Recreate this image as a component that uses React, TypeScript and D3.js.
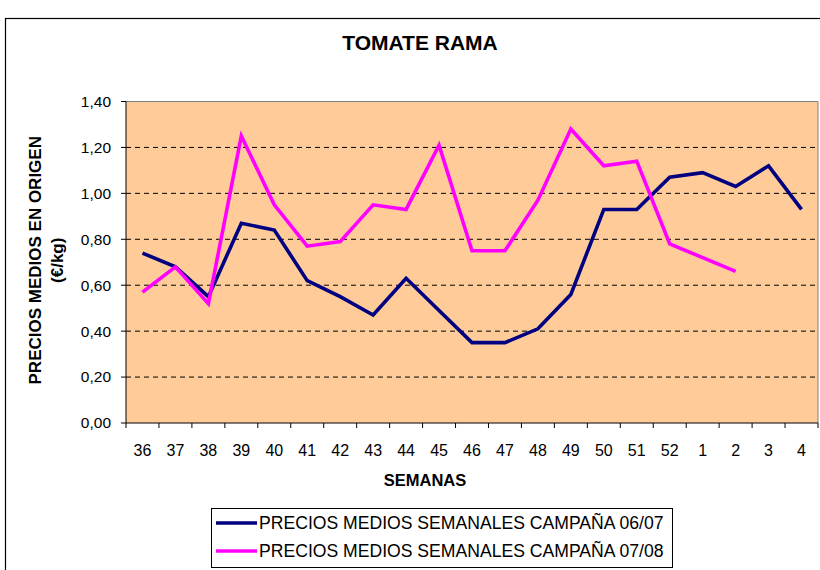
import React from "react";
import * as d3 from "d3";

const weeks = ["36", "37", "38", "39", "40", "41", "42", "43", "44", "45", "46", "47", "48", "49", "50", "51", "52", "1", "2", "3", "4"];
const campana0607 = [0.74, 0.68, 0.55, 0.87, 0.84, 0.62, 0.55, 0.47, 0.63, 0.49, 0.35, 0.35, 0.41, 0.56, 0.93, 0.93, 1.07, 1.09, 1.03, 1.12, 0.93];
const campana0708 = [0.57, 0.68, 0.52, 1.25, 0.95, 0.77, 0.79, 0.95, 0.93, 1.21, 0.75, 0.75, 0.97, 1.28, 1.12, 1.14, 0.78, 0.72, 0.66];
const yTicks = [0, 0.2, 0.4, 0.6, 0.8, 1.0, 1.2, 1.4];
const seriesNames = ["PRECIOS MEDIOS SEMANALES CAMPAÑA 06/07", "PRECIOS MEDIOS SEMANALES CAMPAÑA 07/08"];
const seriesColors = ["#000080", "#FF00FF"];

const W = 820;
const H = 570;
const plot = { left: 126, right: 818, top: 101.5, bottom: 423 };
const font = "Arial, 'Liberation Sans', sans-serif";

const App = () => {
  // one band per week, points sit in the middle of each band
  const x = d3.scaleBand().domain(weeks).range([plot.left, plot.right]).padding(0);
  const y = d3.scaleLinear().domain([0, 1.4]).range([plot.bottom, plot.top]);
  const cx = (i: number) => (x(weeks[i]) as number) + x.bandwidth() / 2;

  const line = d3.line<number>()
    .x((d, i) => cx(i))
    .y(d => y(d));

  const fmt = (v: number) => v.toFixed(2).replace(".", ",");
  const boundaries = weeks.map(w => x(w) as number).concat([plot.right]);

  return (
    <svg width={W} height={H} style={{ position: "absolute", left: 0, top: 0 }} fontFamily={font}>
      <rect x={0} y={0} width={W} height={H} fill="#fff" />
      {/* chart frame */}
      <rect x={5.5} y={18.5} width={830} height={600} fill="none" stroke="#000" strokeWidth={1.2} />
      <text x={420} y={50} textAnchor="middle" fontSize={21} fontWeight="bold">TOMATE RAMA</text>

      {/* plot area */}
      <rect x={plot.left} y={plot.top} width={plot.right - plot.left} height={plot.bottom - plot.top} fill="#FFCC99" />
      {yTicks.slice(1, -1).map(t => (
        <line key={t} x1={plot.left} x2={plot.right} y1={y(t)} y2={y(t)} stroke="#000" strokeWidth={1} strokeDasharray="5,4" />
      ))}
      <path d={`M${plot.left},${plot.top}H${plot.right}V${plot.bottom}`} fill="none" stroke="#808080" strokeWidth={1} />
      <line x1={plot.left} x2={plot.left} y1={plot.top} y2={plot.bottom} stroke="#000" />
      <line x1={plot.left} x2={plot.right} y1={plot.bottom} y2={plot.bottom} stroke="#000" />

      {/* y axis */}
      {yTicks.map(t => (
        <g key={t}>
          <line x1={plot.left - 5} x2={plot.left} y1={y(t)} y2={y(t)} stroke="#000" />
          <text x={plot.left - 15} y={y(t)} dy="0.35em" textAnchor="end" fontSize={15.5}>{fmt(t)}</text>
        </g>
      ))}
      <g transform={`translate(41,${(plot.top + plot.bottom) / 2 - 2}) rotate(-90)`}>
        <text x={0} y={0} textAnchor="middle" fontSize={17} fontWeight="bold">PRECIOS MEDIOS EN ORIGEN</text>
        <text x={0} y={22} textAnchor="middle" fontSize={17} fontWeight="bold">(€/kg)</text>
      </g>

      {/* x axis */}
      {boundaries.map((b, i) => (
        <line key={i} x1={b} x2={b} y1={plot.bottom} y2={plot.bottom + 5} stroke="#000" />
      ))}
      {weeks.map((w, i) => (
        <text key={w} x={cx(i)} y={456} textAnchor="middle" fontSize={16}>{w}</text>
      ))}
      <text x={425} y={486} textAnchor="middle" fontSize={16.5} fontWeight="bold">SEMANAS</text>

      {/* series */}
      <path d={line(campana0607) || ""} fill="none" stroke={seriesColors[0]} strokeWidth={3.6} strokeLinejoin="miter" />
      <path d={line(campana0708) || ""} fill="none" stroke={seriesColors[1]} strokeWidth={3.6} strokeLinejoin="miter" />

      {/* legend */}
      <rect x={211.5} y={508.5} width={461} height={59} fill="#fff" stroke="#000" strokeWidth={1} />
      {seriesNames.map((name, i) => (
        <g key={name} transform={`translate(0,${523 + i * 28})`}>
          <line x1={216} x2={257} y1={0} y2={0} stroke={seriesColors[i]} strokeWidth={3.6} />
          <text x={259} y={0} dy="0.36em" fontSize={17.6}>{name}</text>
        </g>
      ))}
    </svg>
  );
};

export default App;
